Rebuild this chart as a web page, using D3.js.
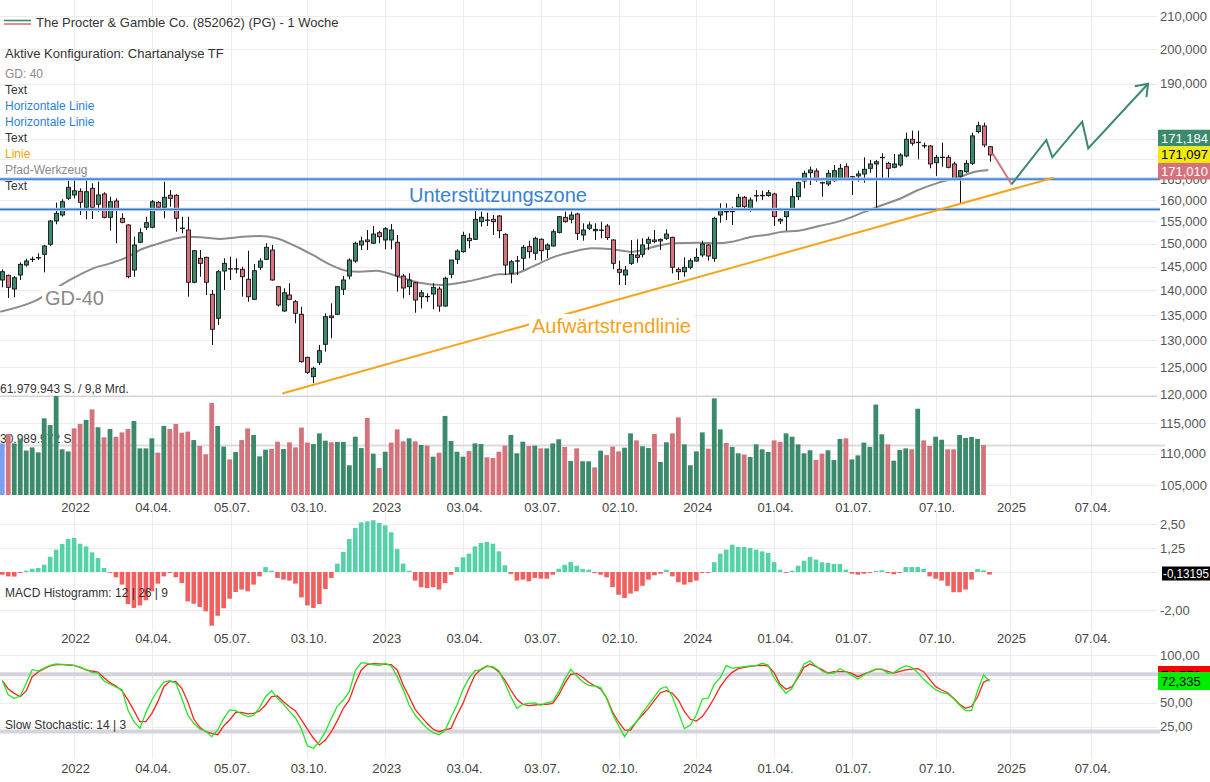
<!DOCTYPE html>
<html><head><meta charset="utf-8">
<script src="https://cdnjs.cloudflare.com/ajax/libs/d3/7.8.5/d3.min.js"></script>
<style>body{margin:0;background:#fff;}svg{display:block;font-family:"Liberation Sans",Arial,Helvetica,sans-serif;}</style>
</head><body><svg id="c" width="1210" height="782"></svg>
<script>
// ---------- DATA ----------
const startWeek = "2021-10-11"; // first weekly candle
const opens = [142.16,143.15,140.28,143.21,145.34,146.55,146.90,147.66,149.87,155.11,
156.49,160.40,161.19,162.07,158.28,162.79,158.99,161.43,155.96,159.76,
155.73,154.20,144.27,150.31,153.67,153.67,159.46,158.28,161.12,161.12,
153.50,153.06,141.68,146.79,147.00,139.18,134.34,144.06,144.55,144.50,
144.42,142.31,138.16,144.85,146.57,148.60,140.76,135.79,139.04,137.67,
135.13,126.80,123.23,125.88,129.27,134.80,135.13,140.21,143.00,146.20,
149.71,150.82,150.09,152.45,150.82,150.82,150.31,143.00,140.76,141.58,
138.69,138.69,139.25,140.28,136.79,143.36,146.57,148.23,151.19,150.97,
154.95,155.34,155.50,156.26,152.08,143.57,146.20,146.79,149.34,147.88,
150.97,148.75,149.49,152.53,155.96,155.50,156.72,151.93,153.45,153.21,
153.06,153.97,150.82,144.42,143.21,145.70,147.51,147.66,150.09,150.82,
150.90,151.19,151.41,144.42,143.91,144.85,146.20,147.51,149.71,146.79,
156.49,157.26,157.30,158.42,160.64,157.65,161.00,161.05,161.05,161.43,
155.50,156.10,158.05,160.79,164.56,166.58,167.00,164.15,163.83,164.63,
165.22,168.08,165.62,165.80,166.27,167.67,168.75,170.42,168.92,167.92,
168.50,170.76,175.02,174.25,173.37,173.29,169.06,170.42,170.42,168.75,
165.72,166.83,168.92,177.00,178.49,173.12];
const highs = [144.42,143.27,143.00,145.92,146.70,147.14,147.88,149.71,155.34,159.36,
160.17,164.63,164.80,162.79,164.80,164.00,164.39,161.83,160.79,160.40,
156.88,154.36,151.55,153.45,156.10,160.00,159.76,164.39,162.38,161.36,
156.10,156.10,148.60,148.60,147.14,140.07,144.27,146.79,147.14,146.79,
144.98,148.45,145.55,146.79,150.09,149.71,140.90,140.43,141.47,138.02,
136.66,126.92,125.06,129.14,135.33,137.35,140.90,143.00,146.79,150.44,
151.55,153.06,153.97,152.90,153.67,154.43,151.93,143.42,143.57,141.79,
140.07,139.39,141.47,140.76,142.85,146.42,148.75,152.67,152.30,157.65,
157.26,157.03,156.49,156.49,152.30,146.42,147.29,149.71,150.66,151.55,
151.19,150.09,153.21,156.26,157.26,157.26,157.03,154.59,154.95,154.59,
154.95,154.43,150.97,146.27,145.12,150.82,150.97,151.19,151.55,153.06,
151.19,153.21,151.55,144.85,147.00,146.79,148.97,150.66,149.93,156.10,
159.22,159.22,158.42,161.43,160.95,160.64,162.38,162.21,162.38,161.74,
155.73,157.80,162.79,164.39,167.08,168.08,167.67,164.39,167.25,168.50,
168.75,168.92,165.80,167.08,170.42,169.74,169.74,171.44,169.31,171.26,
171.44,176.74,177.27,177.27,174.15,173.55,171.01,174.15,171.01,169.31,
167.25,169.74,176.74,179.63,179.37,173.29];
const lows = [140.63,138.43,138.57,142.16,144.98,145.99,146.42,143.78,149.49,154.36,
156.10,160.00,160.40,156.49,155.50,155.57,157.26,155.73,152.90,150.09,
154.59,142.52,142.85,150.09,153.06,153.45,158.05,155.73,158.42,152.67,
152.30,138.69,141.47,142.85,139.04,129.14,133.01,140.07,142.16,143.57,
138.69,137.67,138.02,144.27,146.42,142.01,136.66,135.65,138.02,133.34,
125.81,123.72,122.03,125.38,127.87,130.42,134.99,139.04,142.31,145.84,
148.60,148.60,149.93,150.09,148.75,148.75,139.72,138.36,139.04,135.44,
136.33,137.67,136.13,135.65,136.66,142.52,145.55,148.00,148.97,150.82,
153.82,153.97,151.93,151.19,143.21,141.47,143.21,144.27,146.79,146.42,
146.27,146.79,149.34,152.30,154.72,154.59,150.82,150.66,153.06,150.82,
151.19,150.82,144.42,141.11,141.11,145.34,145.84,147.00,148.60,150.09,
148.60,150.82,143.57,142.16,142.85,144.42,146.05,147.00,146.27,146.05,
154.72,155.34,154.20,158.28,158.05,157.26,159.60,160.00,160.79,153.97,
154.43,152.90,157.80,160.00,162.79,163.59,164.39,160.79,163.35,164.39,
164.97,164.80,161.19,164.39,164.15,166.58,158.05,164.87,165.22,167.67,
168.08,170.42,173.37,169.91,172.70,167.67,165.80,168.08,167.67,164.63,
159.06,166.58,168.50,176.57,172.96,169.31];
const closes = [143.91,140.63,142.64,145.49,146.20,146.60,146.95,149.49,155.11,156.88,
159.60,163.03,162.21,159.46,161.97,158.28,161.19,155.96,159.60,158.05,
154.81,142.85,149.71,152.45,154.72,159.60,158.28,160.64,160.40,155.73,
153.40,141.68,148.45,145.70,141.68,132.17,143.91,145.70,144.50,144.55,
142.85,138.69,144.12,146.20,149.20,142.16,137.00,139.51,138.16,135.33,
125.99,124.03,124.77,128.06,134.66,134.46,140.76,142.16,146.42,150.09,
150.60,150.44,152.15,151.55,153.36,153.06,143.00,140.49,142.16,138.02,
139.51,138.75,140.63,136.79,142.52,146.42,148.38,151.86,150.66,155.50,
155.96,155.30,154.95,152.90,145.34,146.05,146.25,149.20,148.23,151.19,
148.45,149.71,152.67,156.10,154.95,156.49,152.30,153.06,154.20,152.90,
153.00,151.34,145.70,143.78,144.27,147.66,147.00,149.71,150.97,150.50,
150.60,152.15,144.85,143.91,144.85,146.27,147.00,149.93,147.29,155.73,
157.65,157.30,157.35,160.64,158.42,160.00,161.05,161.10,161.74,156.10,
155.11,157.65,160.79,164.15,166.44,167.25,164.80,164.10,166.44,167.08,
167.67,164.97,165.55,166.27,167.42,168.75,169.31,170.40,167.67,168.75,
171.01,175.02,173.99,174.20,173.40,168.75,170.42,170.45,167.92,164.97,
167.08,168.92,175.90,178.57,173.55,171.01];
// weekly volume in million shares (current week shows no bar)
const volumes = [32.3,38.2,32.3,35.1,27.8,29.8,26.7,48.0,43.8,61.98,
28.6,27.3,41.7,44.5,47.0,53.6,42.4,36.1,41.3,36.5,
39.2,41.3,46.3,29.2,29.2,35.5,26.5,43.2,41.3,44.5,
39.0,39.7,34.4,30.7,25.5,57.6,43.2,30.3,22.3,26.9,
34.4,41.7,37.6,24.2,28.4,28.8,33.4,28.8,33.0,29.8,
42.2,32.8,31.9,38.6,34.0,33.0,33.2,33.2,18.6,36.5,
29.4,48.2,25.9,16.9,27.1,32.8,41.1,33.6,35.5,33.6,
31.3,30.9,24.0,26.5,49.5,33.8,27.1,24.0,27.5,32.3,
31.9,23.6,23.2,27.1,30.9,37.6,26.1,33.4,30.7,30.9,
29.2,29.2,32.3,34.9,30.1,21.3,29.2,21.1,21.1,17.3,
27.8,25.0,30.3,27.3,29.6,38.6,34.2,30.5,29.4,38.2,
20.7,33.0,38.6,48.6,31.7,18.6,27.3,39.2,29.0,60.5,
41.1,32.6,30.1,26.1,25.3,23.8,31.7,28.6,26.9,34.2,
33.2,38.6,36.5,31.7,26.1,28.0,21.9,25.9,28.0,21.9,
35.1,35.5,22.3,24.8,32.8,30.1,56.6,38.0,31.7,21.5,
28.2,29.2,28.6,54.0,34.2,30.7,36.5,34.6,28.6,28.6,
37.6,35.7,36.3,35.1,31.3,0];
const volMax = 61979943;
const macdHist = [-0.14,-0.23,-0.24,-0.05,0.07,0.17,0.21,0.38,0.80,1.17,
1.47,1.73,1.78,1.48,1.34,1.03,0.73,0.21,-0.02,-0.28,
-0.66,-1.68,-1.88,-1.75,-1.48,-1.01,-0.61,-0.23,-0.05,-0.28,
-0.58,-1.54,-1.66,-1.83,-2.06,-2.81,-2.29,-1.90,-1.40,-1.05,
-0.92,-1.01,-0.66,-0.23,0.26,0.07,-0.31,-0.40,-0.45,-0.61,
-1.33,-1.75,-1.88,-1.68,-0.89,-0.31,0.44,1.05,1.73,2.30,
2.60,2.65,2.71,2.57,2.44,2.08,1.20,0.44,0.07,-0.45,
-0.80,-0.84,-0.79,-0.92,-0.58,-0.14,0.26,0.77,0.96,1.34,
1.52,1.57,1.48,1.08,0.35,-0.10,-0.45,-0.40,-0.49,-0.31,
-0.35,-0.35,-0.14,0.17,0.38,0.52,0.33,0.16,0.12,-0.05,
-0.14,-0.28,-0.79,-1.19,-1.36,-1.13,-1.01,-0.72,-0.40,-0.17,
-0.09,0.12,-0.23,-0.54,-0.66,-0.54,-0.45,-0.05,-0.05,0.51,
0.96,1.17,1.43,1.31,1.31,1.26,1.17,1.08,0.99,0.52,
0.12,-0.05,0.07,0.33,0.59,0.79,0.65,0.51,0.47,0.42,
0.42,0.12,-0.09,-0.14,-0.09,-0.05,0.05,0.09,-0.05,-0.12,
-0.05,0.26,0.26,0.26,0.16,-0.23,-0.35,-0.45,-0.72,-1.06,
-1.06,-0.92,-0.40,0.16,0.09,-0.13195];
const stochK = [73.2,58.3,54.7,57.1,70.4,84.7,83.3,86.5,89.3,90.7,
90.3,90.0,89.3,87.5,84.7,81.9,81.2,72.9,69.7,66.5,
63.7,42.4,30.2,23.2,39.7,53.0,63.4,71.8,73.2,70.8,
54.7,37.2,28.5,22.5,20.4,14.5,21.5,33.7,42.5,41.8,
38.3,35.5,36.9,44.9,56.4,62.7,54.7,48.4,41.0,34.4,
22.2,4.7,2.3,9.3,19.7,33.7,46.6,52.9,61.7,83.7,
92.1,91.4,90.0,88.9,91.4,88.6,77.4,64.1,47.7,37.2,
29.9,23.2,18.7,16.6,21.1,34.8,47.7,64.1,75.6,83.7,
84.4,88.2,87.9,83.7,70.4,56.4,44.2,48.4,49.4,49.8,
47.3,50.1,51.2,61.7,74.5,85.1,78.4,72.1,68.3,67.6,
65.9,54.7,38.3,26.0,14.5,23.9,29.9,39.7,48.0,56.4,
64.8,66.9,56.4,39.7,22.9,26.7,37.2,54.0,55.0,69.7,
76.3,88.9,86.1,87.2,87.9,88.6,88.9,91.4,89.6,76.3,
67.6,59.9,65.2,78.1,90.7,93.8,88.6,83.3,80.9,81.2,
85.8,82.6,78.8,74.9,79.1,82.6,85.4,85.4,80.9,81.6,
85.8,88.6,87.2,81.6,74.6,69.0,63.8,60.6,59.6,54.3,
47.7,41.8,41.8,62.7,79.1,72.335];
const stochD = [73.2,64.5,59.9,56.4,62.4,77.4,82.3,85.8,88.6,90.0,
90.0,89.6,89.3,87.2,84.4,83.3,82.3,76.3,71.1,67.6,
62.7,53.0,41.8,30.2,30.2,38.9,51.2,66.9,72.5,72.1,
65.2,51.2,33.0,24.3,19.7,18.0,16.6,25.7,32.0,40.0,
40.0,38.3,38.9,41.4,47.7,56.4,57.1,51.2,45.9,41.4,
32.0,22.5,12.8,5.8,11.0,19.7,31.3,44.2,53.0,70.4,
84.4,90.0,91.0,90.7,90.3,90.0,84.4,68.6,56.4,43.1,
35.5,28.5,22.2,19.7,21.5,23.2,37.2,49.4,65.2,79.1,
85.1,88.6,87.2,82.3,73.9,63.4,53.6,48.4,47.0,47.7,
48.4,48.4,49.4,58.2,70.4,79.9,80.9,76.7,71.5,67.9,
64.5,55.3,40.3,29.9,21.5,21.1,30.2,37.2,44.2,52.6,
60.6,62.7,59.9,52.9,41.0,32.7,30.9,35.5,44.5,55.3,
66.9,75.6,81.9,85.8,87.2,88.2,88.9,89.3,88.6,81.6,
69.4,64.1,66.9,76.3,87.2,90.7,87.9,84.7,81.2,82.6,
82.6,82.6,80.9,77.4,80.2,82.3,85.1,85.1,83.0,81.2,
83.0,84.4,85.4,85.8,82.6,74.6,66.9,63.4,60.6,54.7,
48.4,44.2,46.3,56.1,71.5,74.6];
// GD-40 (40-week moving average) read at these week positions
const maWeek = [-0.35,5.2,10.8,15.2,18,20.8,23,26.3,29.1,30.8,34.1,36.4,38.6,43,45.8,48.6,51.9,54.7,57.5,59.7,62.5,66.4,69.7,73.6,77.5,80.8,83,85.3,88.6,92,95.3,98.6,102,105.3,108.6,112,116.4,119.2,122,125.3,127.6,130.4,133.1,136.5,140.3,144.2,147.6,149.8,153.1,156.5,159.8,162.6,164.8];
const maVal = [135.65,137.67,141.80,144.63,145.70,147.0,148.60,150.09,151.19,151.55,151.34,151.04,151.34,151.71,151.19,149.71,147.51,145.49,144.12,143.91,144.12,142.79,141.58,141.11,141.80,142.72,143.36,143.42,144.98,147.0,148.23,148.97,148.75,148.23,149.20,150.09,150.22,150.09,150.44,151.55,151.93,152.67,152.90,153.97,155.19,157.26,159.06,160.17,162.38,164.15,165.46,166.83,167.25];
// drawings
const supportLevels = [165.0, 157.8];
const trendWeeks = [46.8, 175.7];
const trendPrices = [120.2, 165.36];
const pathWeeks = [165.5, 168.7, 174.5, 175.5, 180.5, 181.5, 191.5];
const pathPrices = [171.44, 163.76, 174.84, 170.42, 179.63, 172.70, 190.0];
const lastQuotes = [171.184, 171.097, 171.010];
const stochLast = [74.573, 72.335];
// axes (gridlines at all ticks; labels only where the chart shows them)
const priceTicks = [105,110,115,120,125,130,135,140,145,150,155,160,165,170,175,190,200,210];
const priceLabelTicks = [105,110,115,120,125,130,135,140,145,150,155,160,165,190,200,210];
const macdTicks = [2.5, 1.25, 0, -2];
const macdLabelTicks = [2.5, 1.25, -2];
const stochTicks = [100, 75, 50, 25];
const stochLabelTicks = [100, 50, 25];
const tickDates = ["2022-01-03","2022-04-04","2022-07-05","2022-10-03","2023-01-02","2023-04-03","2023-07-03","2023-10-02","2024-01-01","2024-04-01","2024-07-01","2024-10-07","2025-01-02","2025-04-07"];
const tickLabels = ["2022","04.04.","05.07.","03.10.","2023","03.04.","03.07.","02.10.","2024","01.04.","01.07.","07.10.","2025","07.04."];
const legendItems = [["GD: 40","#8a8a8a"],["Text","#333"],["Horizontale Linie","#2f7fd6"],["Horizontale Linie","#2f7fd6"],["Text","#333"],["Linie","#f5a300"],["Pfad-Werkzeug","#8a8a8a"],["Text","#333"]];

// ---------- SETUP ----------
const GREEN="#3b8a6b", RED="#d4737c", BLUE="#2f78cc";
const svg=d3.select("#c");
const loc=d3.formatLocale({decimal:",",thousands:".",grouping:[3],currency:["","€"],minus:"-"});
const f3=loc.format(".3f"), f2=loc.format(".2f"), fInt=loc.format(",d");
const parse=d3.utcParse("%Y-%m-%d");
const t0=parse(startWeek);
const wd=i=>new Date(+t0+i*7*864e5);
const n=closes.length;
const x=d3.scaleUtc().domain([wd(0),wd(165)]).range([2.3,989.5]);
const xi=i=>x(wd(i));
const R=1157;
const y=d3.scaleLog().domain([105,210]).range([485,16]);
const yv=d3.scaleLinear().domain([0,volMax/1e6]).range([495,396]);
const ym=d3.scaleLinear().domain([-2,2.5]).range([610.2,524.25]);
const ys=d3.scaleLinear().domain([0,100]).range([750.5,655.1]);

// ---------- GRID ----------
const grid=svg.append("g").attr("stroke","#ececec").attr("stroke-width",1);
tickDates.forEach(d=>{
  const xx=Math.round(x(parse(d)))+0.5;
  [[0,495],[513,630],[645,758]].forEach(r=>grid.append("line").attr("x1",xx).attr("x2",xx).attr("y1",r[0]).attr("y2",r[1]));
});
priceTicks.forEach(v=>{const yy=Math.round(y(v))+0.5;grid.append("line").attr("x1",0).attr("x2",R).attr("y1",yy).attr("y2",yy);});
macdTicks.forEach(v=>{const yy=Math.round(ym(v))+0.5;grid.append("line").attr("x1",0).attr("x2",R).attr("y1",yy).attr("y2",yy);});
stochTicks.forEach(v=>{const yy=Math.round(ys(v))+0.5;grid.append("line").attr("x1",0).attr("x2",R).attr("y1",yy).attr("y2",yy);});

// ---------- VOLUME ----------
const gv=svg.append("g");
gv.append("text").attr("x",0).attr("y",393).attr("font-size",12).attr("fill","#333").text(fInt(volMax)+" S. / 9,8 Mrd.");
gv.append("text").attr("x",0).attr("y",442.5).attr("font-size",12).attr("fill","#333").text(fInt(Math.round(volMax/2))+" S.");
gv.append("line").attr("x1",0).attr("x2",R).attr("y1",396.5).attr("y2",396.5).attr("stroke","#d2d2d6");
gv.append("line").attr("x1",0).attr("x2",1165).attr("y1",yv(volMax/2e6)).attr("y2",yv(volMax/2e6)).attr("stroke","#dcdce0").attr("stroke-width",2);
gv.selectAll("rect").data(volumes).join("rect")
  .attr("x",(d,i)=>xi(i)-2.4).attr("width",4.8)
  .attr("y",d=>yv(d)).attr("height",d=>yv(0)-yv(d))
  .attr("fill",(d,i)=>i===0?"#7d9ff0":(closes[i]>=closes[i-1]?GREEN:RED));

// ---------- GD-40 ----------
svg.append("path").datum(maWeek.map((w,i)=>[w,maVal[i]]))
  .attr("d",d3.line().x(d=>xi(d[0])).y(d=>y(d[1])).curve(d3.curveMonotoneX))
  .attr("fill","none").attr("stroke","#8c8c8c").attr("stroke-width",2);
function bgLabel(txt,xx,yy,color){
  const g=svg.append("g");
  const t=g.append("text").attr("x",xx).attr("y",yy).attr("font-size",20).attr("fill",color).text(txt);
  const bb=t.node().getBBox();
  g.insert("rect",()=>t.node()).attr("x",bb.x-3).attr("y",bb.y-1).attr("width",bb.width+6).attr("height",bb.height+2).attr("fill","#fff");
}
bgLabel("GD-40",45,305,"#8a8a8a");

// ---------- CANDLES ----------
const gc=svg.append("g");
d3.range(n).forEach(i=>{
  const cx=Math.round(xi(i))+0.5, o=opens[i], c=closes[i];
  gc.append("line").attr("x1",cx).attr("x2",cx).attr("y1",y(highs[i])).attr("y2",y(lows[i])).attr("stroke","#111").attr("stroke-width",1);
  const yt=y(Math.max(o,c)), yb=y(Math.min(o,c));
  gc.append("rect").attr("x",cx-2).attr("y",yt).attr("width",4).attr("height",Math.max(0.4,yb-yt))
    .attr("fill",c>=o?GREEN:RED).attr("stroke","#151515").attr("stroke-width",0.9);
});

// ---------- DRAWINGS ----------
supportLevels.forEach(v=>{
  svg.append("line").attr("x1",0).attr("x2",1160).attr("y1",y(v)).attr("y2",y(v)).attr("stroke","#a8c7ef").attr("stroke-width",3.2);
  svg.append("line").attr("x1",0).attr("x2",1160).attr("y1",y(v)).attr("y2",y(v)).attr("stroke",BLUE).attr("stroke-width",1.3);
});
svg.append("text").attr("x",409).attr("y",202).attr("font-size",20).attr("fill","#3a82d2").text("Unterstützungszone");
svg.append("line").attr("x1",xi(trendWeeks[0])).attr("y1",y(trendPrices[0])).attr("x2",xi(trendWeeks[1])).attr("y2",y(trendPrices[1]))
  .attr("stroke","#f7a51c").attr("stroke-width",2);
bgLabel("Aufwärtstrendlinie",532,333,"#f5a31a");

const defs=svg.append("defs");
defs.append("marker").attr("id","arr").attr("viewBox","0 0 14 18").attr("refX",12).attr("refY",9)
  .attr("markerWidth",14).attr("markerHeight",18).attr("markerUnits","userSpaceOnUse").attr("orient","auto")
  .append("path").attr("d","M1,1 L12,9 L1,17").attr("fill","none").attr("stroke",GREEN).attr("stroke-width",2);
const pp=pathWeeks.map((w,i)=>[xi(w),y(pathPrices[i])]);
svg.append("path").attr("d",d3.line()(pp.slice(0,2))).attr("fill","none").attr("stroke",RED).attr("stroke-width",2);
svg.append("path").attr("d",d3.line()(pp.slice(1))).attr("fill","none").attr("stroke",GREEN).attr("stroke-width",2).attr("marker-end","url(#arr)");

// ---------- LEGEND ----------
svg.append("line").attr("x1",4).attr("x2",31).attr("y1",20.5).attr("y2",20.5).attr("stroke",GREEN).attr("stroke-width",1.6);
svg.append("line").attr("x1",4).attr("x2",31).attr("y1",24).attr("y2",24).attr("stroke",RED).attr("stroke-width",1.6);
svg.append("text").attr("x",36).attr("y",27).attr("font-size",13).attr("fill","#333").text("The Procter & Gamble Co. (852062) (PG) - 1 Woche");
svg.append("text").attr("x",5).attr("y",58).attr("font-size",13).attr("fill","#333").text("Aktive Konfiguration: Chartanalyse TF");
legendItems.forEach((d,i)=>svg.append("text").attr("x",5).attr("y",77.5+16*i).attr("font-size",12).attr("fill",d[1]).text(d[0]));

// ---------- PRICE AXIS ----------
priceLabelTicks.forEach(v=>svg.append("text").attr("x",1160).attr("y",y(v)).attr("dy","0.36em").attr("font-size",13).attr("fill","#555").text(f3(v)));
const yMid=y(lastQuotes[1]);
const bx=[["#3b8a6b","#fff",-1],["#f2ea0c","#000",0],["#d4737c","#fff",1]];
bx.forEach((b,i)=>{
  const cy=yMid+b[2]*16.6;
  svg.append("rect").attr("x",1158).attr("y",cy-8.3).attr("width",52).attr("height",16.6).attr("fill",b[0]);
  svg.append("text").attr("x",1161).attr("y",cy).attr("dy","0.36em").attr("font-size",13).attr("fill",b[1]).text(f3(lastQuotes[i]));
});

// ---------- X LABELS ----------
[512,643,773].forEach(yy=>{
  tickDates.forEach((d,i)=>svg.append("text").attr("x",x(parse(d))+1.5).attr("y",yy).attr("text-anchor","middle").attr("font-size",13).attr("fill","#444").text(tickLabels[i]));
});

// ---------- MACD ----------
const gm=svg.append("g");
gm.selectAll("rect").data(macdHist).join("rect")
  .attr("x",(d,i)=>xi(i)-2.3).attr("width",4.6)
  .attr("y",d=>Math.min(ym(d),ym(0))).attr("height",d=>Math.max(0.8,Math.abs(ym(d)-ym(0))))
  .attr("fill",d=>d>=0?"#55d2a7":"#f25f5f");
svg.append("text").attr("x",5).attr("y",597).attr("font-size",12).attr("fill","#333").text("MACD Histogramm: 12 | 26 | 9");
macdLabelTicks.forEach(v=>svg.append("text").attr("x",1160).attr("y",ym(v)).attr("dy","0.36em").attr("font-size",13).attr("fill","#555").text(f2(v)));
const ymL=ym(macdHist[n-1]);
svg.append("rect").attr("x",1162).attr("y",ymL-8).attr("width",48).attr("height",14).attr("fill","#000");
svg.append("text").attr("x",1163).attr("y",ymL-1).attr("dy","0.36em").attr("font-size",13).attr("fill","#fff").attr("textLength",46).attr("lengthAdjust","spacingAndGlyphs").text(loc.format(".5f")(macdHist[n-1]));

// ---------- STOCHASTIC ----------
[80,20].forEach(v=>svg.append("line").attr("x1",0).attr("x2",1160).attr("y1",ys(v)).attr("y2",ys(v)).attr("stroke","#d4d4dc").attr("stroke-width",4));
const sl=d3.line().x((d,i)=>xi(i)).y(d=>ys(d));
svg.append("path").attr("d",sl(stochD)).attr("fill","none").attr("stroke","#ff2222").attr("stroke-width",1.3);
svg.append("path").attr("d",sl(stochK)).attr("fill","none").attr("stroke","#22e622").attr("stroke-width",1.3);
svg.append("text").attr("x",5).attr("y",729).attr("font-size",12).attr("fill","#333").text("Slow Stochastic: 14 | 3");
stochLabelTicks.forEach(v=>svg.append("text").attr("x",1160).attr("y",ys(v)).attr("dy","0.36em").attr("font-size",13).attr("fill","#555").text(f2(v)));
const ysK=ys(stochLast[1]);
// %D box sits behind the %K box; only its top strip shows
const clip=defs.append("clipPath").attr("id","dclip");
clip.append("rect").attr("x",1158).attr("y",ysK-15.5).attr("width",52).attr("height",6);
svg.append("rect").attr("x",1158).attr("y",ysK-15.5).attr("width",52).attr("height",18).attr("fill","#ff0000");
svg.append("text").attr("x",1161).attr("y",ysK-6.5).attr("dy","0.36em").attr("font-size",13).attr("fill","#000").attr("clip-path","url(#dclip)").text(f3(stochLast[0]));
svg.append("rect").attr("x",1158).attr("y",ysK-9.5).attr("width",52).attr("height",18).attr("fill","#00ee00");
svg.append("text").attr("x",1161).attr("y",ysK).attr("dy","0.36em").attr("font-size",13).attr("fill","#000").text(f3(stochLast[1]));
</script></body></html>
